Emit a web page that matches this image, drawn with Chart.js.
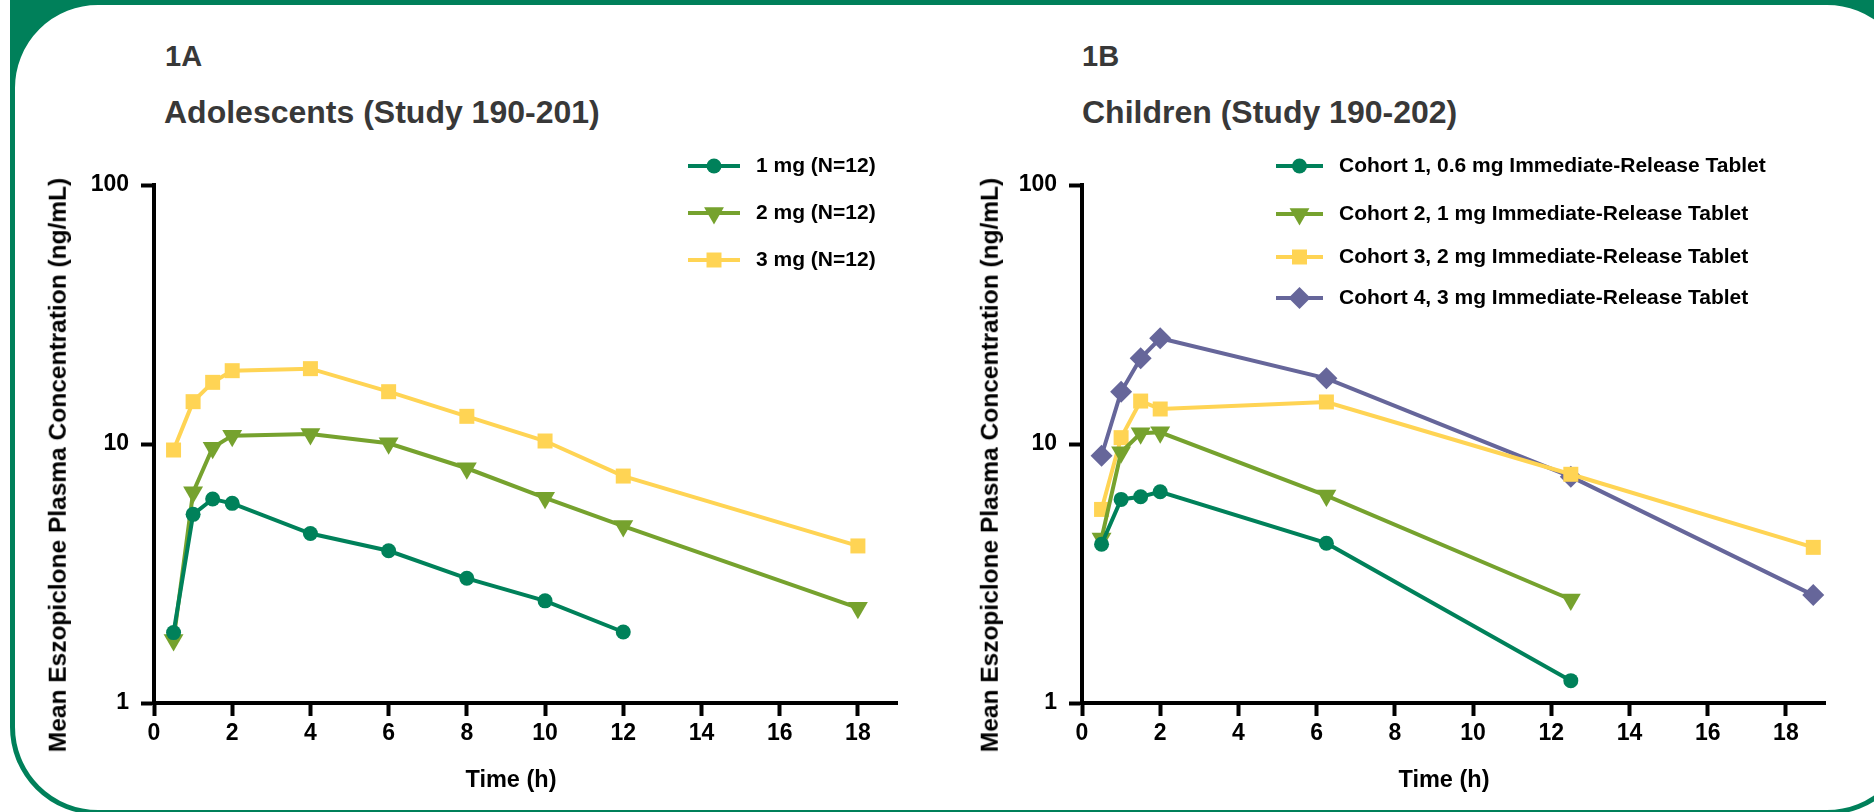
<!DOCTYPE html>
<html>
<head>
<meta charset="utf-8">
<script src="https://cdn.jsdelivr.net/npm/chart.js@4.4.1/dist/chart.umd.min.js"></script>
<style>
  body { margin: 0; width: 1874px; height: 812px; overflow: hidden; background: #fff; font-family: "Liberation Sans", Arial, sans-serif; }
  .band { position: absolute; left: 10px; top: 0; width: 1864px; height: 120px; background: #00805a; }
  .panel { position: absolute; left: 10px; top: 0; width: 1905px; height: 815px; box-sizing: border-box;
           border: 5px solid #00805a; border-radius: 88px; background: #fff; }
  .lbl { position: absolute; font-weight: bold; color: #383838; line-height: 1; white-space: nowrap; }
  .num { font-size: 29px; }
  .ttl { font-size: 32px; }
  .axt { position: absolute; font-weight: bold; color: #000; line-height: 1; white-space: nowrap;
         transform: translate(-50%, -50%); z-index: 2; }
  .yt { font-size: 24.5px; transform: translate(-50%, -50%) rotate(-90deg); }
  .xt { font-size: 23.5px; }
  canvas { position: absolute; top: 140px; }
</style>
</head>
<body>
<div class="band"></div>
<div class="panel"></div>

<div class="lbl num" style="left:165px; top:42px;">1A</div>
<div class="lbl ttl" style="left:164px; top:96px;">Adolescents (Study 190-201)</div>
<div class="lbl num" style="left:1082px; top:42px;">1B</div>
<div class="lbl ttl" style="left:1082px; top:96px;">Children (Study 190-202)</div>

<canvas id="chartA" width="930" height="672" style="left:0px;"></canvas>
<canvas id="chartB" width="930" height="672" style="left:928px;"></canvas>

<div class="axt yt" style="left:58px; top:465px;">Mean Eszopiclone Plasma Concentration (ng/mL)</div>
<div class="axt xt" style="left:511px; top:780px;">Time (h)</div>
<div class="axt yt" style="left:990px; top:465px;">Mean Eszopiclone Plasma Concentration (ng/mL)</div>
<div class="axt xt" style="left:1444px; top:780px;">Time (h)</div>

<script>
// --- data ---
const xTicks = [0, 2, 4, 6, 8, 10, 12, 14, 16, 18];
const yTicks = [1, 10, 100];

// Panel A: adolescents
const timesA = [0.5, 1, 1.5, 2, 4, 6, 8, 10, 12, 18];
const mg1 = [1.87, 5.35, 6.13, 5.90, 4.51, 3.87, 3.03, 2.48, 1.88, null];
const mg2 = [1.75, 6.51, 9.68, 10.77, 10.94, 10.06, 8.06, 6.20, 4.82, 2.33];
const mg3 = [9.48, 14.57, 17.3, 19.19, 19.54, 15.92, 12.79, 10.27, 7.52, 4.04];

// Panel B: children
const timesB = [0.5, 1, 1.5, 2, 6.25, 12.5, 18.7];
const cohort1 = [4.10, 6.11, 6.26, 6.54, 4.14, 1.22, null];
const cohort2 = [4.32, 9.29, 11.0, 11.1, 6.32, 2.51, null];
const cohort3 = [5.59, 10.58, 14.65, 13.65, 14.53, 7.64, 3.99];
const cohort4 = [9.01, 15.92, 21.42, 25.6, 17.93, 7.48, 2.61];

const GREEN = '#00815a';
const OLIVE = '#76a22e';
const YELLOW = '#ffd454';
const PURPLE = '#66669a';

const FONT = '"Liberation Sans", Arial, sans-serif';

function pts(times, vals) {
    return times.map((t, i) => ({ x: t, y: vals[i] })).filter(p => p.y !== null);
}

function series(label, times, vals, color, style, radius, rotation) {
    return {
        label: label,
        data: pts(times, vals),
        borderColor: color,
        backgroundColor: color,
        pointBackgroundColor: color,
        pointBorderColor: color,
        pointBorderWidth: 0,
        pointStyle: style,
        pointRadius: radius,
        pointHoverRadius: radius,
        pointRotation: rotation || 0,
        borderWidth: 4,
        tension: 0
    };
}

// legend with a short line and the marker in the middle, like the original
const lineLegend = {
    id: 'lineLegend',
    afterDraw(chart, args, opts) {
        const ctx = chart.ctx;
        ctx.save();
        chart.data.datasets.forEach((ds, i) => {
            const y = opts.rows[i];
            ctx.strokeStyle = ds.borderColor;
            ctx.lineWidth = 4;
            ctx.beginPath();
            ctx.moveTo(opts.x1, y);
            ctx.lineTo(opts.x2, y);
            ctx.stroke();
            ctx.fillStyle = ds.pointBackgroundColor;
            Chart.helpers.drawPoint(ctx, {
                pointStyle: ds.pointStyle,
                rotation: ds.pointRotation,
                radius: ds.pointRadius,
                borderWidth: 0
            }, (opts.x1 + opts.x2) / 2, y);
            ctx.fillStyle = '#000';
            ctx.font = 'bold 21px ' + FONT;
            ctx.textBaseline = 'middle';
            ctx.textAlign = 'left';
            ctx.fillText(ds.label, opts.tx, y);
        });
        ctx.restore();
    }
};

function makeChart(id, datasets, legendOpts) {
    return new Chart(document.getElementById(id), {
        type: 'line',
        data: { datasets: datasets },
        plugins: [lineLegend],
        options: {
            responsive: false,
            animation: false,
            events: [],
            layout: { padding: { left: 0, top: 45, right: 33, bottom: 9 } },
            plugins: {
                legend: { display: false },
                tooltip: { enabled: false },
                lineLegend: legendOpts
            },
            scales: {
                x: {
                    type: 'linear',
                    min: 0,
                    max: 19,
                    afterBuildTicks: (scale) => { scale.ticks = xTicks.map(v => ({ value: v })); },
                    afterFit: (scale) => { scale.height = 100; },
                    border: { display: true, width: 4, color: '#000' },
                    grid: { drawOnChartArea: false, drawTicks: true, tickLength: 13, tickWidth: 4, tickColor: '#000', color: '#000' },
                    ticks: { color: '#000', font: { family: FONT, size: 23, weight: 'bold' }, padding: 4, maxRotation: 0 }
                },
                y: {
                    type: 'logarithmic',
                    min: 1,
                    max: 100,
                    afterBuildTicks: (scale) => { scale.ticks = yTicks.map(v => ({ value: v })); },
                    afterFit: (scale) => { scale.width = 154; },
                    border: { display: true, width: 4, color: '#000' },
                    grid: { drawOnChartArea: false, drawTicks: true, tickLength: 13, tickWidth: 4, tickColor: '#000', color: '#000' },
                    ticks: { color: '#000', font: { family: FONT, size: 23, weight: 'bold' }, padding: 12, callback: (v) => String(v) }
                }
            }
        }
    });
}

makeChart('chartA', [
    series('1 mg (N=12)', timesA, mg1, GREEN, 'circle', 7.5),
    series('2 mg (N=12)', timesA, mg2, OLIVE, 'triangle', 11.5, 180),
    series('3 mg (N=12)', timesA, mg3, YELLOW, 'rect', 10.6)
], { x1: 688, x2: 740, tx: 756, rows: [26, 73, 120] });

makeChart('chartB', [
    series('Cohort 1, 0.6 mg Immediate-Release Tablet', timesB, cohort1, GREEN, 'circle', 7.5),
    series('Cohort 2, 1 mg Immediate-Release Tablet', timesB, cohort2, OLIVE, 'triangle', 11.5, 180),
    series('Cohort 3, 2 mg Immediate-Release Tablet', timesB, cohort3, YELLOW, 'rect', 10.6),
    series('Cohort 4, 3 mg Immediate-Release Tablet', timesB, cohort4, PURPLE, 'rectRot', 11)
], { x1: 348, x2: 395, tx: 411, rows: [26, 74, 117, 158] });
</script>
</body>
</html>
